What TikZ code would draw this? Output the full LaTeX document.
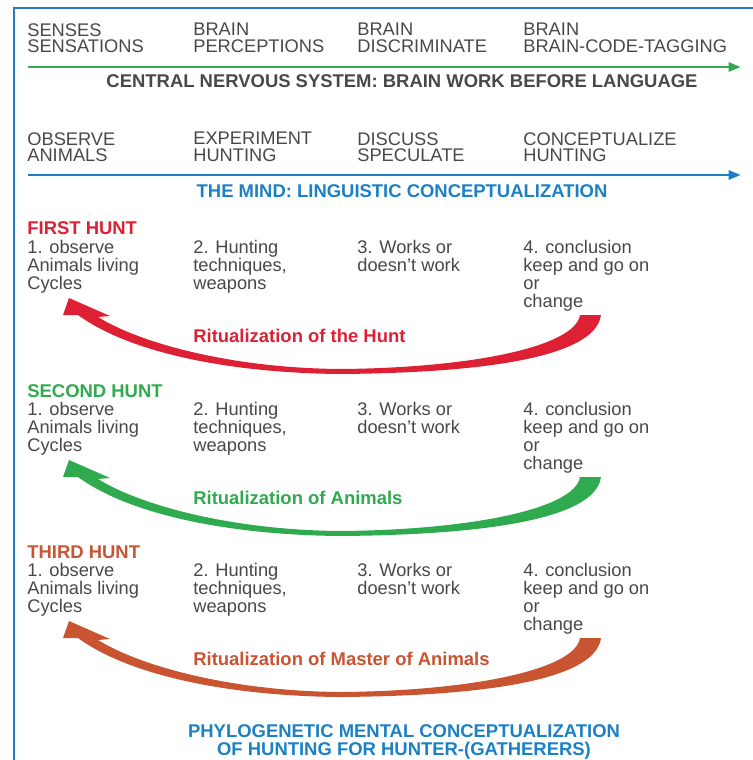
\documentclass[tikz,border=0pt]{standalone}
\usepackage{fontspec}
\setmainfont{Liberation Sans}
\usetikzlibrary{arrows.meta,positioning}
\definecolor{FrameBlue}{RGB}{34,124,198}
\definecolor{MindBlue}{RGB}{28,128,196}
\definecolor{NerveGreen}{RGB}{52,168,82}
\definecolor{TextGray}{RGB}{72,72,72}
\definecolor{HuntRed}{RGB}{222,32,52}
\definecolor{HuntGreen}{RGB}{48,170,78}
\definecolor{HuntRust}{RGB}{200,84,50}

\begin{document}
\begin{tikzpicture}[x=0.02cm,y=-0.02cm,
  txt/.style={anchor=north west,inner sep=0pt,align=left,text=TextGray,font=\fontsize{10.4}{10.2}\selectfont},
  hdr/.style={txt,font=\fontsize{10.4}{9.6}\selectfont},
  bold/.style={inner sep=0pt,align=center,font=\fontsize{10.5}{10}\selectfont\bfseries},
  axis/.style={line width=1.7pt,-{Triangle[length=7pt,width=5pt]}}]
\useasboundingbox (0,0) rectangle (753,760);
% frame
\draw[FrameBlue,line width=1.6pt] (14,760) -- (14,8) -- (753,8);

% brain work row
\node[hdr] (sense)   at (27,23)  {SENSES\\SENSATIONS};
\node[hdr] (percept) at (193,23) {BRAIN\\PERCEPTIONS};
\node[hdr] (discrim) at (357,23) {BRAIN\\DISCRIMINATE};
\node[hdr] (tagging) at (523,23) {BRAIN\\BRAIN-CODE-TAGGING};
\coordinate (cnsL) at (28,67); \coordinate (cnsR) at (741,67);
\draw[axis,NerveGreen] (cnsL) -- (cnsR);
\node[bold,anchor=base,text=TextGray] (cns) at (402,88) {CENTRAL NERVOUS SYSTEM: BRAIN WORK BEFORE LANGUAGE};

% mind row
\node[hdr] (observe)  at (27,132)  {OBSERVE\\ANIMALS};
\node[hdr] (experim)  at (193,132) {EXPERIMENT\\HUNTING};
\node[hdr] (discuss)  at (357,132) {DISCUSS\\SPECULATE};
\node[hdr] (concept)  at (523,132) {CONCEPTUALIZE\\HUNTING};
\coordinate (mindL) at (28,175); \coordinate (mindR) at (741,175);
\draw[axis,MindBlue] (mindL) -- (mindR);
\node[bold,anchor=base,text=MindBlue] (mind) at (402,197) {THE MIND: LINGUISTIC CONCEPTUALIZATION};

% three hunts, each with its returning arrow
\foreach \k/\B/\col/\hname/\rname in {1/235/HuntRed/FIRST HUNT/Ritualization of the Hunt,
    2/397/HuntGreen/SECOND HUNT/Ritualization of Animals,
    3/558/HuntRust/THIRD HUNT/Ritualization of Master of Animals}{
\begin{scope}[shift={(0,\B)}]
  \node[bold,anchor=base west,text=\col] (hunt\k) at (27,0) {\hname};
  \node[txt] (obs\k)  at (27,5)  {1. observe\\Animals living\\Cycles};
  \node[txt] (tech\k) at (193,5) {2. Hunting\\techniques,\\weapons};
  \node[txt] (work\k) at (357,5) {3. Works or\\doesn't work};
  \node[txt] (conc\k) at (523,5) {4. conclusion\\keep and go on\\or\\change};
  \node[bold,anchor=base west,text=\col] (rit\k) at (193,107) {\rname};
  \fill[\col] (69,63) -- (63,80) -- (78,80)
    .. controls (130,118) and (230,138) .. (340,139)
    .. controls (470,138) and (595,125) .. (601,80)
    -- (580,80)
    .. controls (575,112) and (470,133) .. (340,134)
    .. controls (230,133) and (140,108) .. (98,82)
    -- (110,81) -- cycle;
\end{scope}}

% closing caption
\node[bold,anchor=base,text=MindBlue] (phylo) at (404,755)
  {PHYLOGENETIC MENTAL CONCEPTUALIZATION\\OF HUNTING FOR HUNTER-(GATHERERS)};
\end{tikzpicture}
\end{document}
